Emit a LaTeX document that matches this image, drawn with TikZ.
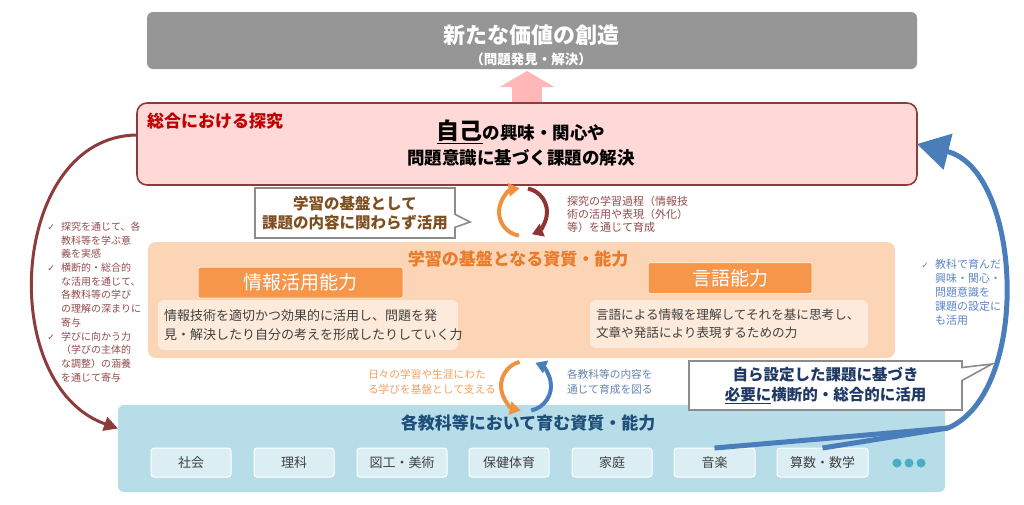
\documentclass[tikz,border=0pt]{standalone}
\usepackage{fontspec}
\setmainfont{Noto Sans CJK JP}
\newfontfamily\symfont{DejaVu Sans}
\usetikzlibrary{shapes.callouts, arrows.meta, positioning}

\definecolor{valuegray}{HTML}{969696}
\definecolor{inqfill}{HTML}{FFD8D8}
\definecolor{inqborder}{HTML}{8E3B3B}
\definecolor{inqtitle}{HTML}{C00000}
\definecolor{uppink}{HTML}{FFB7B7}
\definecolor{basepeach}{HTML}{FBD5B5}
\definecolor{basetitle}{HTML}{E87B2C}
\definecolor{headorange}{HTML}{F5964B}
\definecolor{headedge}{HTML}{FFE6CC}
\definecolor{descfill}{HTML}{FDEADB}
\definecolor{desctext}{HTML}{404040}
\definecolor{skillfill}{HTML}{B7DDE8}
\definecolor{subjfill}{HTML}{DAEEF3}
\definecolor{skilltitle}{HTML}{1F4E79}
\definecolor{skillblue}{HTML}{4A7EBB}
\definecolor{dotblue}{HTML}{4BACC6}
\definecolor{calloutgray}{HTML}{8C8C8C}
\definecolor{notebrown}{HTML}{7F4F21}
\definecolor{notenavy}{HTML}{1F3864}
\definecolor{redtext}{HTML}{934B4B}
\definecolor{bluetext}{HTML}{5B86C2}
\definecolor{cycorange}{HTML}{F0913F}
\definecolor{cycred}{HTML}{8E3434}
\definecolor{lowtext}{HTML}{F0A060}
\definecolor{lowblue}{HTML}{6384AE}

\newcommand{\fsize}[2]{\fontsize{#1}{#2}\selectfont}
\newcommand{\checkmk}{\llap{{\symfont\fsize{9}{10}✓}\hspace{6pt}}}

\begin{document}
\begin{tikzpicture}[
                x=1pt, y=-1pt,
                every node/.style={inner sep=0pt, outer sep=0pt},
                valuebox/.style={rectangle, rounded corners=6pt, fill=valuegray, minimum width=770pt, minimum height=57pt},
                inquirybox/.style={rectangle, rounded corners=10pt, draw=inqborder, line width=1.6pt, fill=inqfill, minimum width=780pt, minimum height=82pt},
                basebox/.style={rectangle, rounded corners=8pt, fill=basepeach, minimum width=747pt, minimum height=116pt},
                ablhead/.style={rectangle, rounded corners=2pt, fill=headorange, draw=headedge, line width=1pt, text=white, font=\fsize{19}{22}, minimum height=31pt},
                abldesc/.style={rectangle, rounded corners=6pt, fill=descfill, text=desctext, align=left, inner xsep=6pt},
                skillbox/.style={rectangle, rounded corners=6pt, fill=skillfill, minimum width=827pt, minimum height=87pt},
                subjbox/.style={rectangle, rounded corners=3pt, fill=subjfill, draw=white, line width=1pt, text=desctext, font=\fsize{13}{15}, minimum height=29pt},
                note/.style={rectangle callout, draw=calloutgray, line width=1.6pt, fill=white, font=\bfseries\fsize{15.5}{19.5}, align=center, callout pointer width=13pt},
                sidetext/.style={align=left, anchor=north west},
                cyclearrow/.style={line width=4pt, -{Triangle[length=11pt,width=13pt]}},
                inqarrow/.style={draw=inqborder, line width=3pt, -{Triangle[length=14pt,width=14pt]}},
                skillarrow/.style={draw=skillblue, line width=5pt, line join=round, -{Triangle[length=32pt,width=36pt]}}
            ]
                \useasboundingbox (0,0) rectangle (1024,504);

                % Nodes
                \node (value) [valuebox] at (532,40.5) {};
                \node (valuetitle) [text=white, font=\bfseries\fsize{22}{24}] at (531,35) {新たな価値の創造};
                \node (valuesub) [text=white, font=\bfseries\fsize{13.5}{15}, below=7pt of valuetitle] {（問題発見・解決）};

                \draw [uppink, line width=30pt, -{Triangle[length=16pt,width=54pt]}, shorten >=2pt] (527,103) -- (527,69);

                \node (inquiry) [inquirybox] at (527,144) {};
                \node (inqtitle) [text=inqtitle, font=\bfseries\fsize{17}{20}, anchor=west] at (147,121) {総合における探究};
                \node (inqtext) [font=\bfseries\fsize{17.5}{25}, align=center] at (521,143) {\underline{\fsize{23}{25}自己}の興味・関心や\\問題意識に基づく課題の解決};

                \node (basisnote) [note, text=notebrown, minimum width=200pt, minimum height=50pt, callout absolute pointer={(470,222)}] at (355,213) {学習の基盤として\\課題の内容に関わらず活用};
                \node (inqprocess) [sidetext, text=redtext, font=\fsize{11}{13}] at (567,196) {探究の学習過程（情報技\\術の活用や表現（外化）\\等）を通じて育成};

                \node (base) [basebox] at (521.5,300) {};
                \node (basetitle) [text=basetitle, font=\bfseries\fsize{17}{20}] at (518,259) {学習の基盤となる資質・能力};
                \node (infohead) [ablhead, minimum width=205pt] at (300.5,282.5) {情報活用能力};
                \node (infodesc) [abldesc, font=\fsize{13}{19}, minimum width=300pt, minimum height=50pt, text width=288pt] at (308,325) {情報技術を適切かつ効果的に活用し、問題を発\\見・解決したり自分の考えを形成したりしていく力};
                \node (langhead) [ablhead, minimum width=164pt] at (730,278) {言語能力};
                \node (langdesc) [abldesc, font=\fsize{12.6}{18}, minimum width=278pt, minimum height=48pt, text width=266pt] at (729,324) {言語による情報を理解してそれを基に思考し、\\文章や発話により表現するための力};

                \node (whynote) [sidetext, text=redtext, font=\fsize{10}{13.7}] at (61,222) {\checkmk 探究を通じて、各\\教科等を学ぶ意\\義を実感\\\checkmk 横断的・総合的\\な活用を通じて、\\各教科等の学び\\の理解の深まりに\\寄与\\\checkmk 学びに向かう力\\（学びの主体的\\な調整）の涵養\\を通じて寄与};
                \node (interest) [sidetext, text=bluetext, font=\fsize{11}{14}] at (935,259) {\checkmk 教科で育んだ\\興味・関心・\\問題意識を\\課題の設定に\\も活用};

                \node (dailynote) [sidetext, text=lowtext, font=\fsize{10.7}{15}] at (368,369) {日々の学習や生涯にわた\\る学びを基盤として支える};
                \node (contentnote) [sidetext, text=lowblue, font=\fsize{10.7}{15}] at (567,369) {各教科等の内容を\\通じて育成を図る};

                \node (skill) [skillbox] at (531.5,448.5) {};
                \node (skilltitle) [text=skilltitle, font=\bfseries\fsize{17}{20}] at (528,423) {各教科等において育む資質・能力};
                \foreach \name/\x/\w/\subj in {social/191/80/社会, science/294/80/理科, art/402/90/図工・美術, health/509/80/保健体育, home/612/80/家庭, music/714.5/81/音楽, math/822.5/91/算数・数学}
                    \node (\name) [subjbox, minimum width=\w pt] at (\x,462.5) {\subj};
                \foreach \x in {897,909,921}
                    \fill [dotblue] (\x,463) circle (4.5);

                \node (applynote) [note, text=notenavy, minimum width=273pt, minimum height=49pt, callout absolute pointer={(992,364)}] at (825.5,385.5) {自ら設定した課題に基づき\\\underline{必要に}横断的・総合的に活用};

                % Cycles
                \coordinate (topcycle) at (523,212);
                \coordinate (lowcycle) at (526,386);
                \draw [cyclearrow, cycorange] (topcycle) ++(100:24) arc[start angle=100, end angle=262, radius=24];
                \draw [cyclearrow, cycred] (topcycle) ++(282:24) arc[start angle=282, end angle=428, radius=24];
                \draw [cyclearrow, cycorange] (lowcycle) ++(255:25) arc[start angle=255, end angle=102, radius=25];
                \draw [cyclearrow, skillblue] (lowcycle) ++(78:25) arc[start angle=78, end angle=-68, radius=25];

                % Arrows
                \coordinate (join) at (948,428);
                \draw [inqarrow] ([yshift=9pt]inquiry.west) .. controls (10,136) and (-5,385) .. ([yshift=20pt]skill.west);
                \draw [skillarrow] (music.north) -- (join) .. controls (1032,392) and (1022,170) .. (inquiry.east);
                \draw [draw=skillblue, line width=5pt] (math.north) -- (join);

            \end{tikzpicture}
\end{document}
